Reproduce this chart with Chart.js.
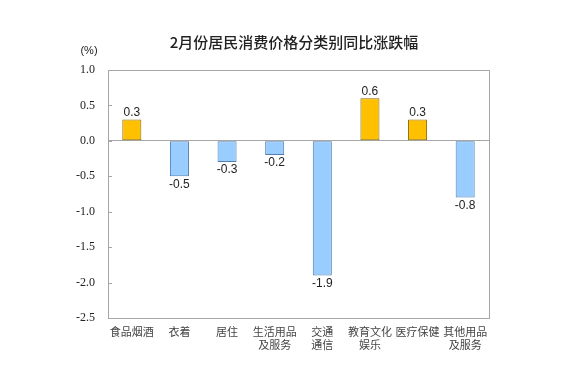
<!DOCTYPE html>
<html>
<head>
<meta charset="utf-8">
<script src="https://cdn.jsdelivr.net/npm/chart.js@4"></script>
<style>
  html, body { margin: 0; padding: 0; background: #fff; }
  #wrap { width: 575px; height: 379px; }
</style>
</head>
<body>
<div id="wrap"><canvas id="cpiChart" width="575" height="379"></canvas></div>
<script>
const categories = [
  ["食品烟酒"], ["衣着"], ["居住"], ["生活用品", "及服务"],
  ["交通", "通信"], ["教育文化", "娱乐"], ["医疗保健"], ["其他用品", "及服务"]
];
const changes = [0.3, -0.5, -0.3, -0.2, -1.9, 0.6, 0.3, -0.8];
const yTicks = [1.0, 0.5, 0.0, -0.5, -1.0, -1.5, -2.0, -2.5];

const title = "2月份居民消费价格分类别同比涨跌幅";

const frame = {
  id: "frame",
  afterDraw(chart) {
    const { ctx, chartArea: a, scales: { y } } = chart;
    ctx.save();
    // box around plot
    ctx.strokeStyle = "#a6a6a6";
    ctx.lineWidth = 1;
    ctx.strokeRect(Math.round(a.left) + 0.5, Math.round(a.top) + 0.5,
      Math.round(a.right - a.left), Math.round(a.bottom - a.top));
    // inward tick marks
    ctx.beginPath();
    yTicks.forEach(v => {
      const py = Math.round(y.getPixelForValue(v)) + 0.5;
      ctx.moveTo(a.left, py);
      ctx.lineTo(a.left + 4, py);
    });
    ctx.stroke();

    // title and unit
    ctx.fillStyle = "#222";
    ctx.font = "500 15px 'Noto Sans CJK SC'";
    ctx.textAlign = "center";
    ctx.textBaseline = "middle";
    ctx.fillText(title, 294, 42);
    ctx.font = "11px 'Liberation Sans'";
    ctx.fillText("(%)", 89, 51);

    // value labels
    ctx.font = "12px 'Liberation Sans'";
    const meta = chart.getDatasetMeta(0);
    meta.data.forEach((bar, i) => {
      const v = changes[i];
      if (v >= 0) {
        ctx.textBaseline = "bottom";
        ctx.fillText(v.toFixed(1), bar.x, bar.y - 1);
      } else {
        ctx.textBaseline = "top";
        ctx.fillText(v.toFixed(1), bar.x, bar.y + 2);
      }
    });
    ctx.restore();
  }
};

new Chart(document.getElementById("cpiChart"), {
  type: "bar",
  data: {
    labels: categories,
    datasets: [{
      data: changes,
      backgroundColor: changes.map(v => v >= 0 ? "#ffc000" : "#99ccff"),
      borderColor: changes.map(v => v >= 0 ? "#8a6a00" : "#4f7eae"),
      borderWidth: 1,
      borderSkipped: false,
      barPercentage: 0.8,
      categoryPercentage: 0.5
    }]
  },
  options: {
    responsive: false,
    animation: false,
    layout: { padding: { top: 70, right: 86, left: 0, bottom: 0 } },
    plugins: { legend: { display: false }, tooltip: { enabled: false } },
    scales: {
      x: {
        grid: { display: false, drawTicks: false },
        border: { display: false },
        ticks: {
          color: "#444",
          font: { family: "'Noto Sans CJK SC'", size: 11 },
          padding: 7,
          maxRotation: 0,
          autoSkip: false
        },
        afterFit(s) { s.height = 61; }
      },
      y: {
        min: -2.5,
        max: 1.0,
        afterBuildTicks(s) { s.ticks = yTicks.map(v => ({ value: v })); },
        grid: {
          drawTicks: false,
          color: c => c.tick && c.tick.value === 0 ? "#a6a6a6" : "transparent",
          lineWidth: 1
        },
        border: { display: false },
        ticks: {
          color: "#222",
          font: { family: "'Liberation Serif'", size: 12 },
          padding: 13,
          callback: v => v.toFixed(1)
        },
        afterFit(s) { s.width = 108; }
      }
    }
  },
  plugins: [frame]
});
</script>
</body>
</html>
